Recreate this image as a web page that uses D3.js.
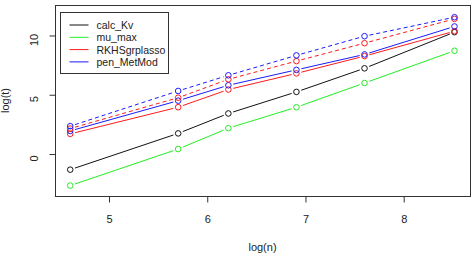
<!DOCTYPE html>
<html>
<head>
<meta charset="utf-8">
<script src="https://cdn.jsdelivr.net/npm/d3@7"></script>
<style>
    body { margin: 0; background: #fff; }
    svg { display: block; font-family: "Liberation Sans", Arial, sans-serif; }
</style>
</head>
<body>
<div id="chart"></div>
<script>
// ===========================
// Timing chart: log(t) vs log(n)
// ===========================

const logN = [4.605, 5.704, 6.215, 6.908, 7.601, 8.517];

const calcKv = [-1.32, 1.74, 3.42, 5.24, 7.23, 10.28];
const muMax = [-2.66, 0.42, 2.18, 3.95, 5.99, 8.71];
const rkhsSolid = [1.70, 3.95, 5.44, 6.80, 8.26, 10.36];
const penSolid = [1.95, 4.50, 5.80, 7.10, 8.40, 10.76];
const rkhsDashed = [2.15, 4.75, 6.30, 7.84, 9.35, 11.40];
const penDashed = [2.35, 5.32, 6.64, 8.32, 9.94, 11.54];

const xTicks = [5, 6, 7, 8];
const yTicks = [0, 5, 10];
const legendNames = ['calc_Kv', 'mu_max', 'RKHSgrplasso', 'pen_MetMod'];

const colors = {
    calc_Kv: '#111111',
    mu_max: '#22ee22',
    RKHSgrplasso: '#ff1a1a',
    pen_MetMod: '#1a1aff'
};

const series = [
    { values: calcKv, color: colors.calc_Kv, dashed: false },
    { values: muMax, color: colors.mu_max, dashed: false },
    { values: rkhsSolid, color: colors.RKHSgrplasso, dashed: false },
    { values: penSolid, color: colors.pen_MetMod, dashed: false },
    { values: rkhsDashed, color: colors.RKHSgrplasso, dashed: true },
    { values: penDashed, color: colors.pen_MetMod, dashed: true }
];

const width = 474, height = 254;
const box = { left: 55, top: 5, right: 470, bottom: 196 };

const svg = d3.select('#chart').append('svg')
    .attr('width', width)
    .attr('height', height);

svg.append('rect').attr('width', width).attr('height', height).attr('fill', '#fff');

const x = d3.scaleLinear().domain([4.45, 8.675]).range([box.left, box.right]);
const y = d3.scaleLinear().domain([-3.54, 12.57]).range([box.bottom, box.top]);

// series: R type="b", segments stop short of each point
const gap = 5;
series.forEach(s => {
    const pts = s.values.map((v, i) => [x(logN[i]), y(v)]);
    const g = svg.append('g');
    for (let i = 0; i < pts.length - 1; i++) {
        const [x1, y1] = pts[i], [x2, y2] = pts[i + 1];
        const len = Math.hypot(x2 - x1, y2 - y1);
        if (len <= 2 * gap) continue;
        const ux = (x2 - x1) / len, uy = (y2 - y1) / len;
        g.append('line')
            .attr('x1', x1 + ux * gap).attr('y1', y1 + uy * gap)
            .attr('x2', x2 - ux * gap).attr('y2', y2 - uy * gap)
            .attr('stroke', s.color)
            .attr('stroke-width', 1)
            .attr('stroke-dasharray', s.dashed ? '4,3' : null);
    }
    g.selectAll('circle')
        .data(pts)
        .join('circle')
        .attr('cx', d => d[0])
        .attr('cy', d => d[1])
        .attr('r', 2.8)
        .attr('fill', 'none')
        .attr('stroke', s.color)
        .attr('stroke-width', 1);
});

// plot box
svg.append('rect')
    .attr('x', box.left + 0.5)
    .attr('y', box.top + 0.5)
    .attr('width', box.right - box.left)
    .attr('height', box.bottom - box.top)
    .attr('fill', 'none')
    .attr('stroke', '#333')
    .attr('stroke-width', 1);

// axes
const xAxis = svg.append('g')
    .attr('transform', `translate(0,${box.bottom + 0.5})`)
    .call(d3.axisBottom(x).tickValues(xTicks).tickFormat(d3.format('d')).tickSize(6).tickSizeOuter(0));
const yAxis = svg.append('g')
    .attr('transform', `translate(${box.left + 0.5},0)`)
    .call(d3.axisLeft(y).tickValues(yTicks).tickSize(6).tickSizeOuter(0));

[xAxis, yAxis].forEach(a => {
    a.select('.domain').remove();
    a.selectAll('line').attr('stroke', '#333');
    a.selectAll('text').attr('fill', '#222').style('font-size', '11px');
});

xAxis.selectAll('text').attr('y', 19).attr('dy', '0.71em');

yAxis.selectAll('.tick text')
    .attr('x', null).attr('dy', null)
    .attr('text-anchor', 'middle')
    .attr('transform', 'translate(-18,4) rotate(-90)');

// axis titles
svg.append('text')
    .attr('x', (box.left + box.right) / 2)
    .attr('y', 251)
    .attr('text-anchor', 'middle')
    .attr('fill', '#222')
    .style('font-size', '11px')
    .text('log(n)');

svg.append('text')
    .attr('transform', `translate(9,${(box.top + box.bottom) / 2}) rotate(-90)`)
    .attr('text-anchor', 'middle')
    .attr('fill', '#222')
    .style('font-size', '11px')
    .text('log(t)');

// legend
const legend = svg.append('g').attr('transform', 'translate(60.5,12.5)');
legend.append('rect')
    .attr('width', 108)
    .attr('height', 61)
    .attr('fill', '#fff')
    .attr('stroke', '#333');

legendNames.forEach((name, i) => {
    const ly = 12.5 + i * 12.3;
    legend.append('line')
        .attr('x1', 9).attr('x2', 28)
        .attr('y1', ly).attr('y2', ly)
        .attr('stroke', colors[name]);
    legend.append('text')
        .attr('x', 36)
        .attr('y', ly + 4)
        .attr('fill', '#222')
        .style('font-size', '10.5px')
        .text(name);
});
</script>
